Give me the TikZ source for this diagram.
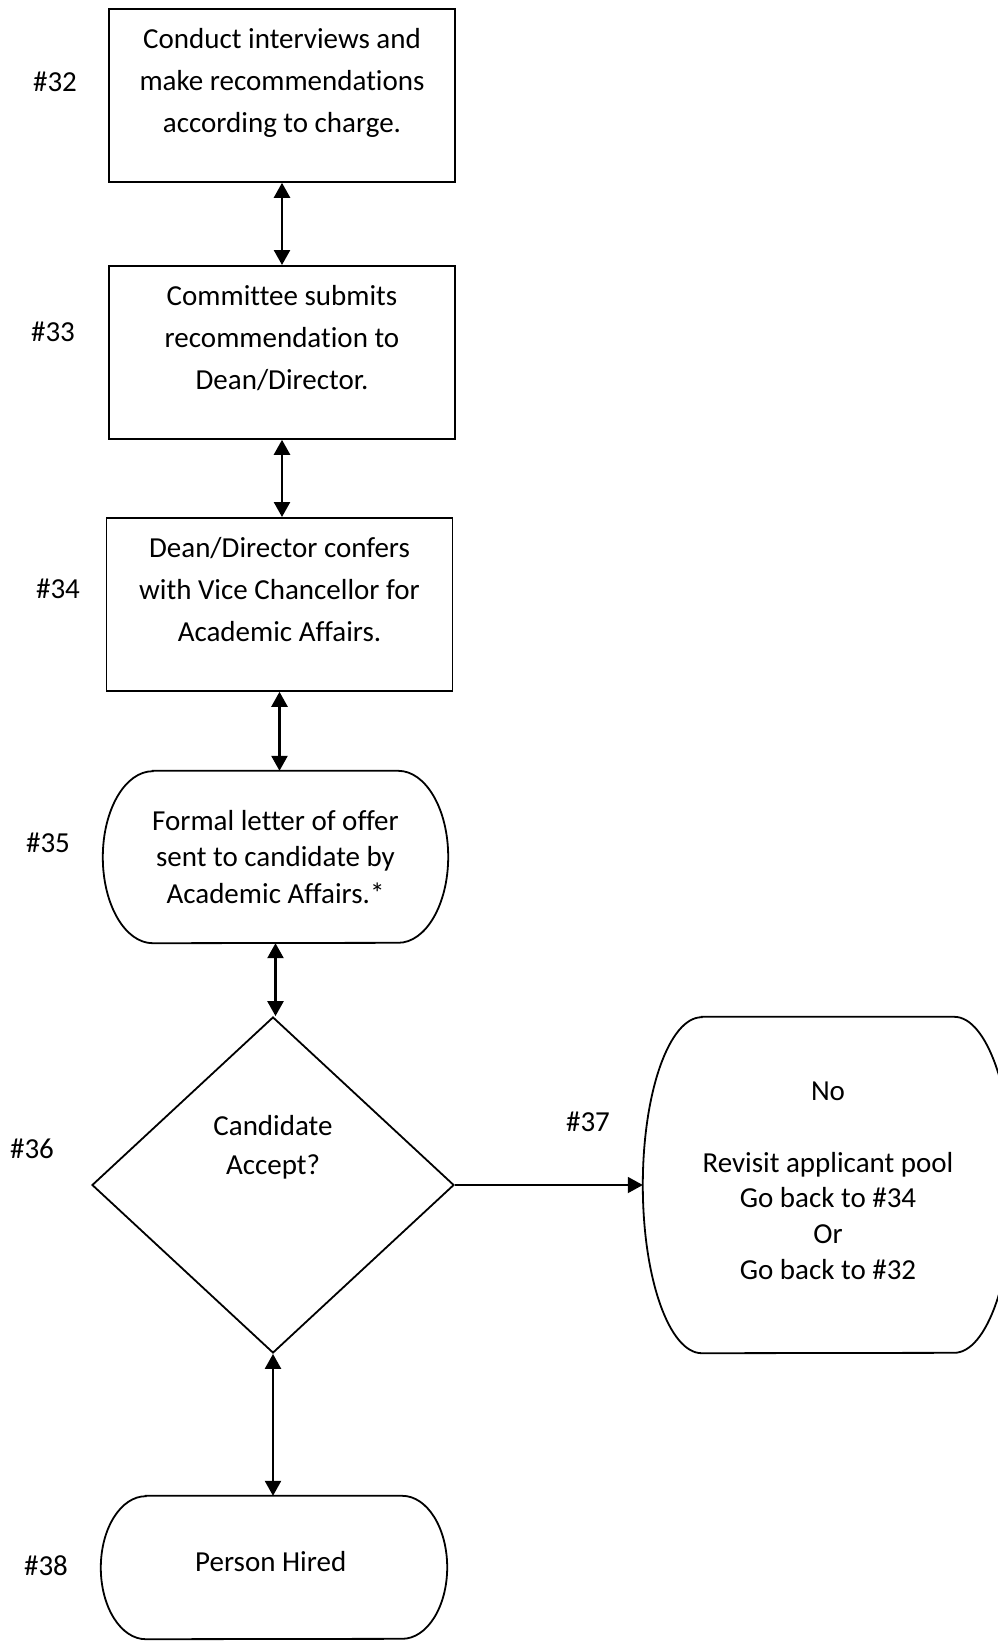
\documentclass[tikz,border=0pt]{standalone}
\usepackage{fontspec}
\setmainfont{Carlito}[Ligatures=CommonOff]
\usetikzlibrary{shapes.geometric,arrows.meta}

% outline of a rounded (pill) box around a named node
\newcommand{\pillpath}[3]{%
\draw[line width=1.8pt] ([xshift=#2]#1.north west) -- ([xshift=-#2]#1.north east)
  arc[start angle=90,end angle=-90,x radius=#2,y radius=#3]
  -- ([xshift=#2]#1.south west)
  arc[start angle=270,end angle=90,x radius=#2,y radius=#3] -- cycle;}

\begin{document}
\begin{tikzpicture}[x=1pt,y=-1pt,
  every node/.style={font=\fontsize{29}{42}\selectfont},
  stepbox/.style={draw,line width=1.8pt,anchor=north,text width=330pt,align=flush center,
    inner xsep=8pt,inner ysep=0pt,text height=40pt,text depth=133pt},
  pill/.style={align=flush center,inner sep=0pt},
  link/.style={line width=2.5pt,{Triangle[width=16pt,length=15pt]}-{Triangle[width=16pt,length=15pt]}}]
\fill[white] (0,0) rectangle (997,1641);
\useasboundingbox (0,0) rectangle (997,1641);

\node[stepbox] (step32) at (282,8) {
Conduct interviews and\\ make recommendations\\ according to charge.
};
\node[stepbox] (step33) at (282,265) {
Committee submits\\ recommendation to\\ Dean/Director.
};
\node[stepbox] (step34) at (279.5,517) {
Dean/Director confers\\ with Vice Chancellor for\\ Academic Affairs.
};
\node[pill,minimum width=345pt,minimum height=172pt,
  font=\fontsize{29}{36.6}\selectfont] (step35) at (275.5,857) {
Formal letter of offer\\ sent to candidate by\\ Academic Affairs.*
};
\pillpath{step35}{50pt}{86pt}
\node[diamond,draw,line width=1.8pt,inner sep=0pt,minimum width=362pt,minimum height=336pt,
  text width=150pt,align=flush center,text height=25pt,text depth=125pt,
  font=\fontsize{29}{39}\selectfont] (step36) at (273,1185) {
Candidate\\ Accept?
};
\node[pill,minimum width=370pt,minimum height=336pt,text width=340pt,
  text height=19pt,text depth=188pt,
  font=\fontsize{29}{35.8}\selectfont] (step37) at (828,1185) {
No\\[35.8pt] Revisit applicant pool\\ Go back to \#34\\ Or\\ Go back to \#32
};
\pillpath{step37}{59pt}{168pt}
\node[pill,minimum width=346pt,minimum height=143pt,text depth=12pt] (step38) at (274,1567.5) {
Person Hired
};
\pillpath{step38}{45pt}{71.5pt}

\node (n32) at (55,82) {\#32};
\node (n33) at (53,332) {\#33};
\node (n34) at (58,589) {\#34};
\node (n35) at (48,843) {\#35};
\node (n36) at (32,1149) {\#36};
\node (n37) at (588,1122) {\#37};
\node (n38) at (46,1566) {\#38};

\draw[link] (step32.south) -- (step32.south |- step33.north);
\draw[link] (step33.south) -- (step33.south |- step34.north);
\draw[link] (step34.south) -- (step34.south |- step35.north);
\draw[link] (step35.south) -- (step35.south |- step36.north);
\draw[link] (step36.south) -- (step36.south |- step38.north);
\draw[line width=1.8pt,-{Triangle[width=16pt,length=15pt]}] (step36.east) -- (step37.west);
\end{tikzpicture}
\end{document}
